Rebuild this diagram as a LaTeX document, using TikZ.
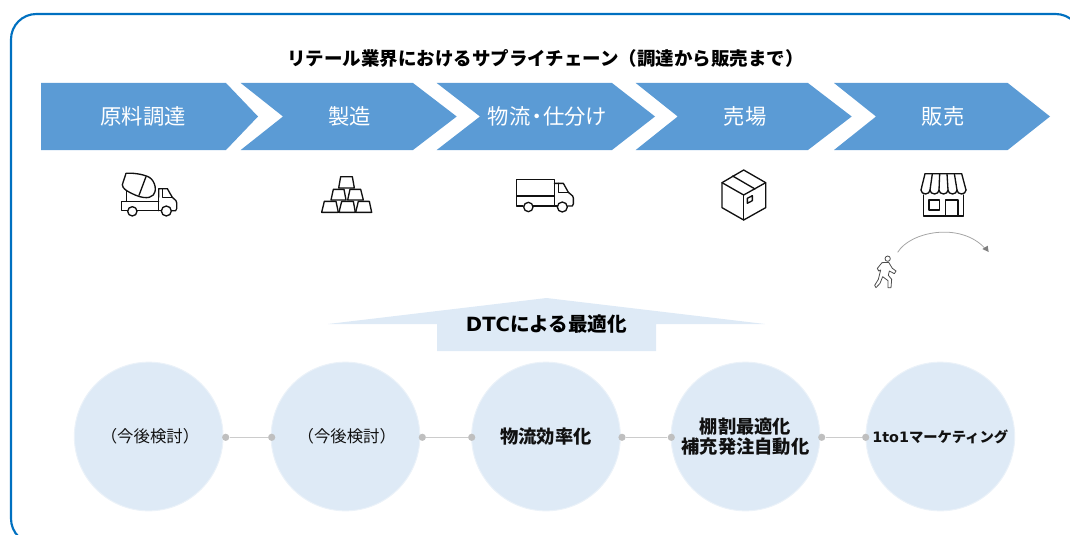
\documentclass[tikz,border=0pt]{standalone}
\usepackage{fontspec}
\setmainfont{Noto Sans CJK JP}
\newfontfamily\latinbold[BoldFont={DejaVu Sans Bold}]{DejaVu Sans}
\definecolor{framecol}{HTML}{0070C0}
\definecolor{chevcol}{HTML}{5B9BD5}
\definecolor{palecol}{HTML}{DEEAF6}
\definecolor{paleedge}{HTML}{EBF2F9}
\definecolor{dotcol}{HTML}{BFBFBF}
\definecolor{linkcol}{HTML}{CCCCCC}
\definecolor{arccol}{HTML}{A6A6A6}
\definecolor{tipcol}{HTML}{7F7F7F}
\definecolor{inkcol}{HTML}{111111}
\tikzset{
  chev/.style={fill=chevcol,draw=none},
  chevtext/.style={text=white,font=\fontsize{16}{20}\selectfont,inner sep=0pt},
  disc/.style={circle,fill=palecol,draw=paleedge,line width=0.75pt,minimum size=111.5pt,inner sep=0pt,align=center,text=inkcol},
  plaintxt/.style={font=\fontsize{12.3}{14}\selectfont},
  boldtxt/.style={font=\fontsize{13.7}{15.5}\selectfont\bfseries},
  dot/.style={circle,fill=dotcol,draw=none,minimum size=5.4pt,inner sep=0pt},
  link/.style={draw=linkcol,line width=0.75pt},
  icon/.style={draw=inkcol,line width=1pt,line join=round,line cap=round,fill=none},
  zoomed/.style={x=0.25pt,y=-0.25pt}
}
\begin{document}
\begin{tikzpicture}[x=0.75pt,y=-0.75pt]
\useasboundingbox (0,0) rectangle (1070,535);
\begin{scope}
\clip (0,0) rectangle (1070,535);
\draw[framecol,line width=1.6pt,rounded corners=19pt] (11,14) rectangle (1081,544);
\end{scope}
\node[text=black,inner sep=0pt,font=\fontsize{13.85}{16}\selectfont\bfseries] (title) at (545.5,58.5) {リテール業界におけるサプライチェーン（調達から販売まで）};
% chevrons
\fill[chev] (41,83) -- (226,83) -- (258,116.5) -- (226,150) -- (41,150) -- cycle;
\fill[chev] (240.7,83) -- (413,83) -- (456.7,116.5) -- (413,150) -- (240.7,150) -- (283,116.5) -- cycle;
\fill[chev] (436.7,83) -- (612,83) -- (655,116.5) -- (612,150) -- (436.7,150) -- (480,116.5) -- cycle;
\fill[chev] (635.7,83) -- (808,83) -- (851.7,116.5) -- (808,150) -- (635.7,150) -- (677.7,116.5) -- cycle;
\fill[chev] (834,83) -- (1007.7,83) -- (1050,116.5) -- (1007.7,150) -- (834,150) -- (876,116.5) -- cycle;
\node[chevtext] (c1) at (143,116) {原料調達};
\node[chevtext] (c2) at (349.5,116) {製造};
\node[chevtext] (c3) at (547.5,116) {物流\hspace{-3.2pt}・\hspace{-3.2pt}仕分け};
\node[chevtext] (c4) at (745,116) {売場};
\node[chevtext] (c5) at (943,116) {販売};
% mixer truck
\begin{scope}[shift={(90,160)},zoomed]
\draw[icon] (108,40) .. controls (125,38) and (160,42) .. (178,52) .. controls (198,65) and (200,95) .. (190,105) .. controls (178,118) and (150,116) .. (110,92) .. controls (100,85) and (96,78) .. (97,74) -- cycle;
\draw[icon] (168,50) -- (147,106);
\draw[icon] (110,92) -- (110,124);
\draw[icon] (206,112) -- (206,86) -- (232,86) -- (247,112) -- (258,122) -- (260,128) -- (260,146) -- (257,152) -- (244,152);
\draw[icon] (218,86) -- (218,112) -- (247,112);
\draw[icon] (206,124) -- (95,124) -- (95,152) -- (113,152);
\draw[icon] (141,152) -- (214,152);
\draw[icon] (206,112) -- (206,152);
\draw[icon] (127,154) circle[radius=14];
\draw[icon] (229,153) circle[radius=15];
\end{scope}
% gold bars
\begin{scope}[shift={(90,160)},zoomed]
\draw[icon] (752,50) -- (787,50) -- (793,84) -- (746,84) -- cycle;
\draw[icon] (730,88) -- (762,88) -- (768,120) -- (723,120) -- cycle;
\draw[icon] (780,88) -- (812,88) -- (820,120) -- (773,120) -- cycle;
\draw[icon] (703,124) -- (738,124) -- (745,157) -- (695,157) -- cycle;
\draw[icon] (755,124) -- (790,124) -- (796,157) -- (747,157) -- cycle;
\draw[icon] (805,124) -- (838,124) -- (845,157) -- (797,157) -- cycle;
\end{scope}
% delivery truck and parcel
\begin{scope}[shift={(500,160)},zoomed]
\draw[icon] (69,138) -- (50,138) -- (50,58) -- (163,58) -- (163,138);
\draw[icon] (50,108) -- (163,108);
\draw[icon] (100,138) -- (172,138);
\draw[icon] (85,141) circle[radius=14];
\draw[icon] (187,141) circle[radius=15];
\draw[icon] (163,70) -- (190,70) -- (205,97) -- (218,108) -- (220,114) -- (220,132) -- (217,138) -- (203,138);
\draw[icon] (176,70) -- (176,98) -- (205,98);
\draw[icon] (731,30) -- (797,68) -- (797,143) -- (731,180) -- (666,143) -- (666,68) -- cycle;
\draw[icon] (666,68) -- (731,105) -- (797,68);
\draw[icon] (731,105) -- (731,180);
\draw[icon] (698,48) -- (765,87);
\draw[icon] (742,115) -- (757,107) -- (757,122) -- (742,130) -- cycle;
\end{scope}
% shop
\begin{scope}[shift={(860,160)},zoomed]
\draw[icon] (183,90) -- (195,41) -- (305,41) -- (318,90);
\draw[icon] (183,90) arc[start angle=180,end angle=0,x radius=13.5,y radius=12] arc[start angle=180,end angle=0,x radius=13.5,y radius=12] arc[start angle=180,end angle=0,x radius=13.5,y radius=12] arc[start angle=180,end angle=0,x radius=13.5,y radius=12] arc[start angle=180,end angle=0,x radius=13.5,y radius=12];
\draw[icon] (217,41) -- (210,90);
\draw[icon] (239,41) -- (237,90);
\draw[icon] (261,41) -- (264,90);
\draw[icon] (283,41) -- (291,90);
\draw[icon] (190,105) -- (190,168) -- (310,168) -- (310,105);
\draw[icon] (207,120) rectangle (238,150);
\draw[icon] (256,168) -- (256,120) -- (294,120) -- (294,168);
\end{scope}
% walker
\begin{scope}[shift={(860,160)},zoomed]
\draw[icon,draw=black!70,line width=0.6pt] (83,296) circle[radius=8];
\draw[icon,draw=black!70,line width=0.6pt] (66,308) -- (86,307) -- (97,325) -- (108,333) -- (103,341) -- (88,333) -- (85,346) -- (95,358) -- (93,383) -- (84,383) -- (84,362) -- (68,350) -- (60,370) -- (48,383) -- (44,376) -- (55,358) -- (62,330) -- (56,333) -- (52,325) -- cycle;
\coordinate (arcstart) at (113,277);
\coordinate (arcend) at (386,276);
\draw[arccol,line width=0.6pt] (arcstart) .. controls (150,215) and (300,185) .. (374,264);
\fill[tipcol] (arcend) -- (367,267) -- (383,257) -- cycle;
\end{scope}
% up arrow
\fill[palecol] (328,324) -- (546.5,298) -- (765,324) -- (656,324) -- (656,351) -- (437,351) -- (437,324) -- cycle;
\node[inner sep=0pt,text=black] (dtc) at (546.5,324) {\fontsize{14.7}{18}\selectfont{\latinbold\bfseries DTC}\bfseries による最適化};
% circles
\node[disc,plaintxt] (d1) at (148.7,436.5) {\hspace{2pt}（今後検討）};
\node[disc,plaintxt] (d2) at (345.5,436.5) {\hspace{2pt}（今後検討）};
\node[disc,boldtxt] (d3) at (546,436.5) {物流効率化};
\node[disc,boldtxt] (d4) at (745.5,436.5) {棚割最適化\\補充発注自動化};
\node[disc,font=\fontsize{10.75}{14}\selectfont\bfseries] (d5) at (940.3,436.5) {{\latinbold\bfseries 1to1}マーケティング};
% connectors
\node[dot] (a1) at (225.7,437.3) {};
\node[dot] (b1) at (271.7,437.3) {};
\node[dot] (a2) at (422.3,437.3) {};
\node[dot] (b2) at (471.7,437.3) {};
\node[dot] (a3) at (622,437.3) {};
\node[dot] (b3) at (671.3,437.3) {};
\node[dot] (a4) at (821.7,437.3) {};
\node[dot] (b4) at (865.7,437.3) {};
\draw[link] (a1) -- (b1);
\draw[link] (a2) -- (b2);
\draw[link] (a3) -- (b3);
\draw[link] (a4) -- (b4);
\end{tikzpicture}
\end{document}
